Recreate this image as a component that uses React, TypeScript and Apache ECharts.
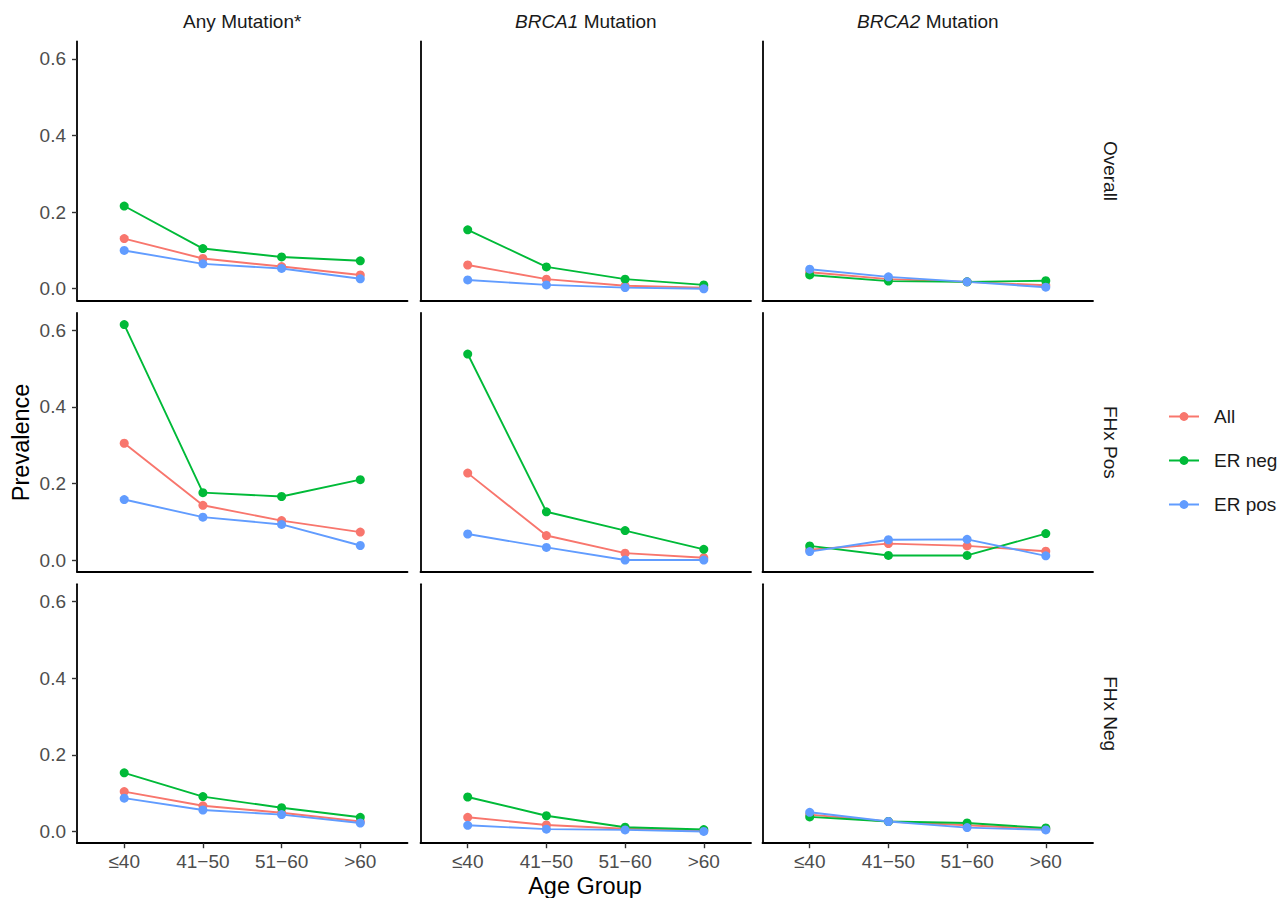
import React, { useEffect, useRef } from "react";
import * as echarts from "echarts";

const ageGroups = ["≤40", "41−50", "51−60", ">60"];
const mutationTypes = ["Any Mutation*", "BRCA1 Mutation", "BRCA2 Mutation"];
const familyHistory = ["Overall", "FHx Pos", "FHx Neg"];
const seriesNames = ["All", "ER neg", "ER pos"];
const seriesColors = ["#F8766D", "#00BA38", "#619CFF"];
const yTicks = [0, 0.2, 0.4, 0.6];

// Overall
const overallAnyAll = [0.131, 0.079, 0.058, 0.036];
const overallAnyErNeg = [0.216, 0.105, 0.083, 0.073];
const overallAnyErPos = [0.1, 0.065, 0.053, 0.026];
const overallBrca1All = [0.062, 0.025, 0.008, 0.003];
const overallBrca1ErNeg = [0.154, 0.057, 0.025, 0.01];
const overallBrca1ErPos = [0.023, 0.01, 0.003, 0.0];
const overallBrca2All = [0.043, 0.025, 0.018, 0.009];
const overallBrca2ErNeg = [0.036, 0.02, 0.018, 0.021];
const overallBrca2ErPos = [0.051, 0.031, 0.018, 0.004];
// FHx Pos
const fhxPosAnyAll = [0.305, 0.143, 0.103, 0.073];
const fhxPosAnyErNeg = [0.615, 0.176, 0.166, 0.21];
const fhxPosAnyErPos = [0.158, 0.112, 0.093, 0.038];
const fhxPosBrca1All = [0.227, 0.064, 0.018, 0.006];
const fhxPosBrca1ErNeg = [0.538, 0.126, 0.077, 0.028];
const fhxPosBrca1ErPos = [0.068, 0.033, 0.0, 0.0];
const fhxPosBrca2All = [0.027, 0.043, 0.037, 0.023];
const fhxPosBrca2ErNeg = [0.037, 0.012, 0.012, 0.069];
const fhxPosBrca2ErPos = [0.022, 0.053, 0.054, 0.011];
// FHx Neg
const fhxNegAnyAll = [0.104, 0.067, 0.049, 0.026];
const fhxNegAnyErNeg = [0.153, 0.091, 0.062, 0.037];
const fhxNegAnyErPos = [0.087, 0.056, 0.044, 0.022];
const fhxNegBrca1All = [0.037, 0.017, 0.007, 0.002];
const fhxNegBrca1ErNeg = [0.09, 0.041, 0.011, 0.005];
const fhxNegBrca1ErPos = [0.016, 0.006, 0.004, 0.0];
const fhxNegBrca2All = [0.044, 0.026, 0.016, 0.006];
const fhxNegBrca2ErNeg = [0.038, 0.026, 0.022, 0.009];
const fhxNegBrca2ErPos = [0.05, 0.026, 0.01, 0.004];

const panelData = [
  [
    [overallAnyAll, overallAnyErNeg, overallAnyErPos],
    [overallBrca1All, overallBrca1ErNeg, overallBrca1ErPos],
    [overallBrca2All, overallBrca2ErNeg, overallBrca2ErPos],
  ],
  [
    [fhxPosAnyAll, fhxPosAnyErNeg, fhxPosAnyErPos],
    [fhxPosBrca1All, fhxPosBrca1ErNeg, fhxPosBrca1ErPos],
    [fhxPosBrca2All, fhxPosBrca2ErNeg, fhxPosBrca2ErPos],
  ],
  [
    [fhxNegAnyAll, fhxNegAnyErNeg, fhxNegAnyErPos],
    [fhxNegBrca1All, fhxNegBrca1ErNeg, fhxNegBrca1ErPos],
    [fhxNegBrca2All, fhxNegBrca2ErNeg, fhxNegBrca2ErPos],
  ],
];

const FONT = "'Liberation Sans', Arial, Helvetica, sans-serif";

export default function App() {
  const ref = useRef<HTMLDivElement>(null);

  useEffect(() => {
    if (!ref.current) return;
    const chart = echarts.init(ref.current, null, { renderer: "svg" });

    const colLefts = [77, 420.5, 762.5];
    const colWidth = 330.5;
    const rowTops = [41.5, 312.8, 584.2];
    const rowHeight = 259;

    const grids: any[] = [];
    const xAxes: any[] = [];
    const yAxes: any[] = [];
    const series: any[] = [];

    for (let r = 0; r < 3; r++) {
      for (let c = 0; c < 3; c++) {
        const idx = r * 3 + c;
        grids.push({
          left: colLefts[c],
          top: rowTops[r],
          width: colWidth,
          height: rowHeight,
          containLabel: false,
        });
        xAxes.push({
          type: "value",
          gridIndex: idx,
          min: 0.4,
          max: 4.6,
          axisLine: { show: true, onZero: false, lineStyle: { color: "#000", width: 1.8 } },
          axisTick: {
            show: r === 2,
            length: 5,
            customValues: [1, 2, 3, 4],
            lineStyle: { color: "#333", width: 1.4 },
          },
          axisLabel: {
            show: r === 2,
            customValues: [1, 2, 3, 4],
            margin: 9,
            color: "#4D4D4D",
            fontSize: 19,
            fontFamily: FONT,
            formatter: (v: number) => ageGroups[Math.round(v) - 1] ?? "",
          },
          splitLine: { show: false },
        });
        yAxes.push({
          type: "value",
          gridIndex: idx,
          min: -0.0307,
          max: 0.6457,
          axisLine: { show: true, onZero: false, lineStyle: { color: "#000", width: 1.8 } },
          axisTick: {
            show: c === 0,
            length: 5,
            customValues: yTicks,
            lineStyle: { color: "#333", width: 1.4 },
          },
          axisLabel: {
            show: c === 0,
            customValues: yTicks,
            margin: 11,
            color: "#4D4D4D",
            fontSize: 19,
            fontFamily: FONT,
            formatter: (v: number) => v.toFixed(1),
          },
          splitLine: { show: false },
        });
        for (let s = 0; s < 3; s++) {
          series.push({
            type: "line",
            name: seriesNames[s],
            xAxisIndex: idx,
            yAxisIndex: idx,
            data: panelData[r][c][s].map((v, i) => [i + 1, v]),
            symbol: "circle",
            symbolSize: 9,
            showSymbol: true,
            lineStyle: { color: seriesColors[s], width: 1.9 },
            itemStyle: { color: seriesColors[s] },
            emphasis: { disabled: true },
          });
        }
      }
    }

    const graphic: any[] = [];
    const stripCenters = colLefts.map((l) => l + colWidth / 2);
    const stripTexts = [
      { text: mutationTypes[0] },
      { text: "{i|BRCA1} Mutation" },
      { text: "{i|BRCA2} Mutation" },
    ];
    stripTexts.forEach((t, c) => {
      graphic.push({
        type: "text",
        x: stripCenters[c],
        y: 21,
        style: {
          text: t.text,
          fontSize: 19,
          fontFamily: FONT,
          fill: "#1A1A1A",
          align: "center",
          verticalAlign: "middle",
          rich: {
            i: { fontStyle: "italic", fontSize: 19, fontFamily: FONT, fill: "#1A1A1A" },
          },
        },
      });
    });
    familyHistory.forEach((name, r) => {
      graphic.push({
        type: "text",
        x: 1110,
        y: rowTops[r] + rowHeight / 2,
        rotation: -Math.PI / 2,
        style: {
          text: name,
          fontSize: 19,
          fontFamily: FONT,
          fill: "#1A1A1A",
          align: "center",
          verticalAlign: "middle",
        },
      });
    });
    graphic.push({
      type: "text",
      x: 21,
      y: (rowTops[0] + rowTops[2] + rowHeight) / 2,
      rotation: Math.PI / 2,
      style: {
        text: "Prevalence",
        fontSize: 23.5,
        fontFamily: FONT,
        fill: "#000",
        align: "center",
        verticalAlign: "middle",
      },
    });
    graphic.push({
      type: "text",
      x: colLefts[0] + (colLefts[2] + colWidth - colLefts[0]) / 2,
      y: 886,
      style: {
        text: "Age Group",
        fontSize: 23.5,
        fontFamily: FONT,
        fill: "#000",
        align: "center",
        verticalAlign: "middle",
      },
    });

    chart.setOption({
      animation: false,
      backgroundColor: "#fff",
      grid: grids,
      xAxis: xAxes,
      yAxis: yAxes,
      series,
      legend: {
        data: seriesNames,
        orient: "vertical",
        left: 1168,
        top: 407,
        padding: 0,
        itemWidth: 30,
        itemHeight: 11,
        itemGap: 25,
        selectedMode: false,
        textStyle: {
          fontSize: 19,
          fontFamily: FONT,
          color: "#1A1A1A",
          padding: [0, 0, 0, 10],
        },
      },
      graphic,
    });

    return () => chart.dispose();
  }, []);

  return (
    <div
      ref={ref}
      style={{ position: "absolute", left: 0, top: 0, width: 1279, height: 898 }}
    />
  );
}
